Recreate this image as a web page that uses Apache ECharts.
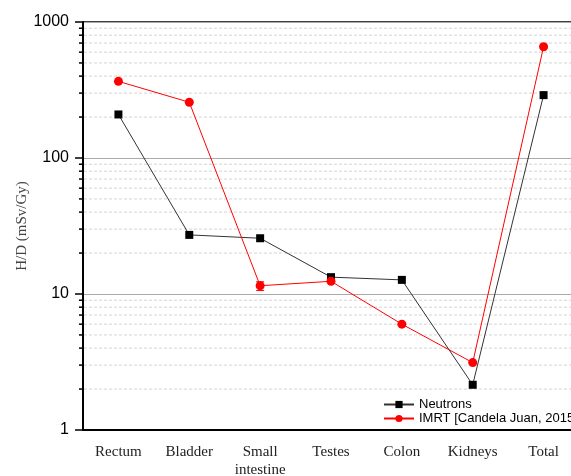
<!DOCTYPE html>
<html>
<head>
<meta charset="utf-8">
<script src="https://cdn.jsdelivr.net/npm/echarts@6/dist/echarts.min.js"></script>
<style>
  html, body { margin: 0; padding: 0; background: #fff; }
  #chart { width: 571px; height: 476px; }
</style>
</head>
<body>
<div id="chart"></div>
<script>
  var organs = ['Rectum', 'Bladder', 'Small\nintestine', 'Testes', 'Colon', 'Kidneys', 'Total'];
  var neutrons = [209, 27.2, 25.7, 13.3, 12.7, 2.15, 290];
  var imrt = [366, 257, 11.5, 12.4, 6.0, 3.13, 658];
  // error bar on small intestine (IMRT)
  var imrtErr = [[2, 10.6, 12.3]];
  var minorTicks = [2, 3, 4, 5, 6, 7, 8, 9, 20, 30, 40, 50, 60, 70, 80, 90, 200, 300, 400, 500, 600, 700, 800, 900];

  var chart = echarts.init(document.getElementById('chart'));

  var option = {
    animation: false,
    grid: {
      left: 83, top: 22, width: 496, bottom: 46,
      outerBoundsMode: 'none',
      containLabel: false,
      show: true, borderColor: '#000', borderWidth: 1.5
    },
    legend: {
      orient: 'vertical',
      left: 378, top: 393,
      itemWidth: 30, itemHeight: 9, itemGap: 1,
      textStyle: { fontFamily: 'Liberation Sans', fontSize: 13, color: '#000' },
      data: ['Neutrons', 'IMRT [Candela Juan, 2015]']
    },
    xAxis: {
      type: 'category',
      data: organs,
      boundaryGap: true,
      axisLine: { lineStyle: { color: '#000', width: 2 } },
      axisTick: { alignWithLabel: true, length: 6, lineStyle: { color: '#000', width: 1.5 } },
      axisLabel: {
        interval: 0, margin: 13, color: '#222',
        fontFamily: 'Liberation Serif', fontSize: 15, lineHeight: 18
      },
      splitLine: { show: false }
    },
    yAxis: {
      type: 'log',
      logBase: 10,
      min: 1, max: 1000,
      name: 'H/D (mSv/Gy)',
      nameLocation: 'middle',
      nameGap: 53,
      nameMoveOverlap: false,
      nameTextStyle: { fontFamily: 'Liberation Serif', fontSize: 15, color: '#444' },
      axisLine: { show: true, lineStyle: { color: '#000', width: 2 } },
      axisTick: { show: true, length: 8, lineStyle: { color: '#000', width: 1.5 } },
      axisLabel: {
        margin: 14, fontFamily: 'Liberation Sans', fontSize: 16, color: '#000',
        formatter: function (v) { return String(Math.round(v)); }
      },
      splitLine: { show: true, lineStyle: { color: '#aaa', width: 1 } }
    },
    series: [
      {
        type: 'custom',
        name: 'minor',
        silent: true,
        clip: false,
        z: 1,
        data: minorTicks.map(function (v) { return [0, v]; }),
        encode: { x: 0, y: 1 },
        renderItem: function (params, api) {
          var cs = params.coordSys;
          var y = api.coord([0, api.value(1)])[1];
          return {
            type: 'group',
            children: [
              {
                type: 'line',
                shape: { x1: cs.x + 1, y1: y, x2: cs.x + cs.width, y2: y },
                style: { stroke: '#d4d4d4', lineWidth: 1, lineDash: [3, 2] }
              },
              {
                type: 'line',
                shape: { x1: cs.x - 4, y1: y, x2: cs.x, y2: y },
                style: { stroke: '#000', lineWidth: 1.5 }
              }
            ]
          };
        }
      },
      {
        type: 'custom',
        name: 'err',
        silent: true,
        z: 3,
        data: imrtErr,
        encode: { x: 0, y: [1, 2] },
        renderItem: function (params, api) {
          var lo = api.coord([api.value(0), api.value(1)]);
          var hi = api.coord([api.value(0), api.value(2)]);
          var style = { stroke: '#ff0000', lineWidth: 1 };
          return {
            type: 'group',
            children: [
              { type: 'line', shape: { x1: lo[0], y1: lo[1], x2: hi[0], y2: hi[1] }, style: style },
              { type: 'line', shape: { x1: lo[0] - 4, y1: lo[1], x2: lo[0] + 4, y2: lo[1] }, style: style },
              { type: 'line', shape: { x1: hi[0] - 4, y1: hi[1], x2: hi[0] + 4, y2: hi[1] }, style: style }
            ]
          };
        }
      },
      {
        name: 'Neutrons',
        type: 'line',
        data: neutrons,
        z: 4,
        symbol: 'rect',
        symbolSize: 8,
        itemStyle: { color: '#000' },
        lineStyle: { color: '#333', width: 1 }
      },
      {
        name: 'IMRT [Candela Juan, 2015]',
        type: 'line',
        data: imrt,
        z: 5,
        symbol: 'circle',
        symbolSize: 9,
        itemStyle: { color: '#ff0000' },
        lineStyle: { color: '#ff0000', width: 1 }
      }
    ]
  };

  chart.setOption(option);
</script>
</body>
</html>
